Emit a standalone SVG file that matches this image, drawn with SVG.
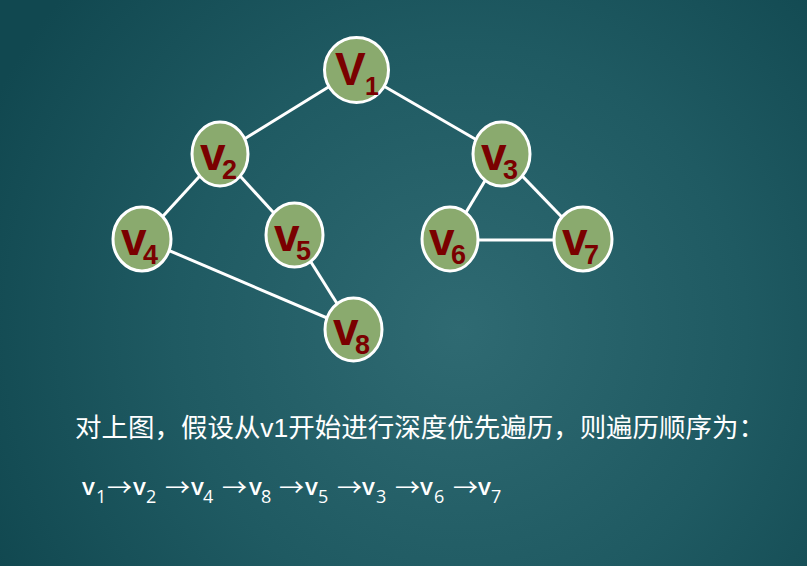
<svg xmlns="http://www.w3.org/2000/svg" width="807" height="566" viewBox="0 0 807 566">
  <defs>
    <radialGradient id="bg" cx="460" cy="330" r="520" gradientUnits="userSpaceOnUse">
      <stop offset="0" stop-color="#2f6a72"/>
      <stop offset="0.55" stop-color="#1f5a62"/>
      <stop offset="1" stop-color="#114850"/>
    </radialGradient>
    <style>
      .edge { stroke: #ffffff; stroke-width: 3; fill: none; }
      .node ellipse { fill: #8aaa6e; stroke: #ffffff; stroke-width: 3; }
      .lbl { font-family: "Liberation Sans", Arial, sans-serif; font-weight: bold; fill: #7a0000; font-size: 46px; }
      .sub { font-size: 27px; }
      .cap { font-family: "Liberation Sans", "Noto Sans CJK SC", sans-serif; fill: #ffffff; }
      .seq { font-family: "Open Sans", "Liberation Sans", sans-serif; font-weight: 600; fill: #ffffff; font-size: 24px; }
      .seqs { font-size: 18px; font-weight: normal; }
      .arr { font-family: "Noto Sans CJK SC", sans-serif; fill: #ffffff; font-size: 24px; }
    </style>
  </defs>

  <rect width="807" height="566" fill="url(#bg)"/>

  <!-- edges -->
  <g id="edges">
    <line class="edge" x1="356" y1="70" x2="220" y2="154"/>
    <line class="edge" x1="356" y1="70" x2="501" y2="154"/>
    <line class="edge" x1="220" y1="154" x2="142" y2="239"/>
    <line class="edge" x1="220" y1="154" x2="294" y2="235"/>
    <line class="edge" x1="142" y1="239" x2="353" y2="329"/>
    <line class="edge" x1="294" y1="235" x2="353" y2="329"/>
    <line class="edge" x1="501" y1="154" x2="450" y2="239"/>
    <line class="edge" x1="501" y1="154" x2="583" y2="239"/>
    <line class="edge" x1="450" y1="240" x2="583" y2="240"/>
  </g>

  <!-- nodes -->
  <g id="v1" class="node">
    <ellipse cx="356.5" cy="70" rx="32" ry="32.5"/>
    <text class="lbl" x="335" y="85" font-size="42">V<tspan x="365" y="95" font-size="25">1</tspan></text>
  </g>
  <g id="v2" class="node">
    <ellipse cx="220" cy="154" rx="28" ry="32"/>
    <text class="lbl" x="200" y="170">v<tspan class="sub" x="222" y="179">2</tspan></text>
  </g>
  <g id="v3" class="node">
    <ellipse cx="501.5" cy="154" rx="28.5" ry="32"/>
    <text class="lbl" x="481" y="170">v<tspan class="sub" x="503" y="179">3</tspan></text>
  </g>
  <g id="v4" class="node">
    <ellipse cx="142" cy="239" rx="29" ry="32"/>
    <text class="lbl" x="121" y="255">v<tspan class="sub" x="143" y="264">4</tspan></text>
  </g>
  <g id="v5" class="node">
    <ellipse cx="294.5" cy="235" rx="28.5" ry="32"/>
    <text class="lbl" x="274" y="251">v<tspan class="sub" x="296" y="260">5</tspan></text>
  </g>
  <g id="v6" class="node">
    <ellipse cx="450" cy="239" rx="28" ry="32"/>
    <text class="lbl" x="429" y="255">v<tspan class="sub" x="451" y="264">6</tspan></text>
  </g>
  <g id="v7" class="node">
    <ellipse cx="583" cy="239" rx="29" ry="32"/>
    <text class="lbl" x="562" y="255">v<tspan class="sub" x="584" y="264">7</tspan></text>
  </g>
  <g id="v8" class="node">
    <ellipse cx="353.5" cy="329.5" rx="28.5" ry="31.5"/>
    <text class="lbl" x="333" y="345">v<tspan class="sub" x="355" y="354">8</tspan></text>
  </g>

  <!-- caption -->
  <text class="cap" x="75" y="437" font-size="26" textLength="690" lengthAdjust="spacingAndGlyphs">对上图，假设从v1开始进行深度优先遍历，则遍历顺序为：</text>

  <!-- traversal order -->
  <g id="order">
    <text class="seq" x="82" y="495">v<tspan class="seqs" x="96" y="503">1</tspan></text>
    <text class="arr" x="107" y="496" textLength="25" lengthAdjust="spacingAndGlyphs">→</text>
    <text class="seq" x="133" y="495">v<tspan class="seqs" x="146" y="503">2</tspan></text>
    <text class="arr" x="165" y="496" textLength="25" lengthAdjust="spacingAndGlyphs">→</text>
    <text class="seq" x="191" y="495">v<tspan class="seqs" x="203" y="503">4</tspan></text>
    <text class="arr" x="222" y="496" textLength="25" lengthAdjust="spacingAndGlyphs">→</text>
    <text class="seq" x="249" y="495">v<tspan class="seqs" x="261" y="503">8</tspan></text>
    <text class="arr" x="279" y="496" textLength="25" lengthAdjust="spacingAndGlyphs">→</text>
    <text class="seq" x="305" y="495">v<tspan class="seqs" x="318" y="503">5</tspan></text>
    <text class="arr" x="337" y="496" textLength="25" lengthAdjust="spacingAndGlyphs">→</text>
    <text class="seq" x="362" y="495">v<tspan class="seqs" x="376" y="503">3</tspan></text>
    <text class="arr" x="395" y="496" textLength="25" lengthAdjust="spacingAndGlyphs">→</text>
    <text class="seq" x="420" y="495">v<tspan class="seqs" x="434" y="503">6</tspan></text>
    <text class="arr" x="453" y="496" textLength="25" lengthAdjust="spacingAndGlyphs">→</text>
    <text class="seq" x="478" y="495">v<tspan class="seqs" x="491" y="503">7</tspan></text>
  </g>
</svg>
